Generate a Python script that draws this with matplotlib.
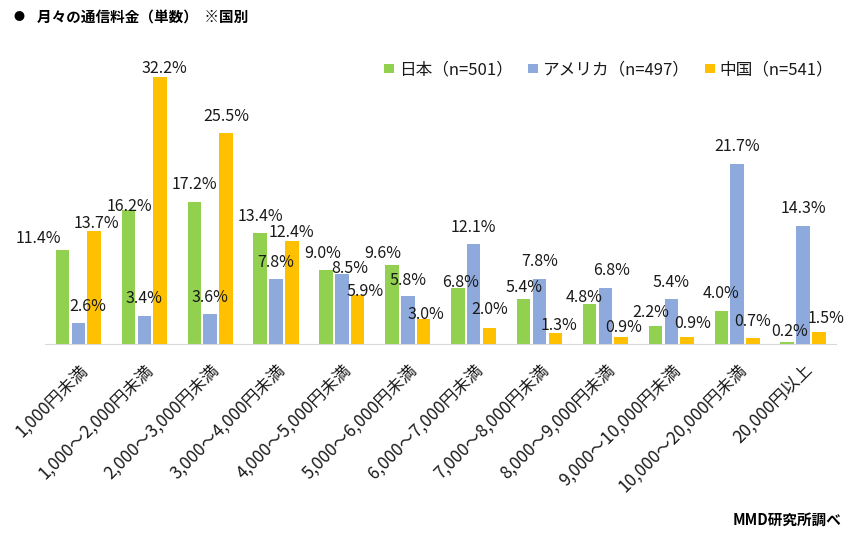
import numpy as np
import matplotlib
matplotlib.use("Agg")
import matplotlib.pyplot as plt

plt.rcParams['font.family'] = ['Noto Sans CJK JP', 'DejaVu Sans']

# data
categories = ['1,000円未満', '1,000～2,000円未満', '2,000～3,000円未満', '3,000～4,000円未満',
              '4,000～5,000円未満', '5,000～6,000円未満', '6,000～7,000円未満', '7,000～8,000円未満',
              '8,000～9,000円未満', '9,000～10,000円未満', '10,000～20,000円未満', '20,000円以上']
japan = [11.4, 16.2, 17.2, 13.4, 9.0, 9.6, 6.8, 5.4, 4.8, 2.2, 4.0, 0.2]
usa = [2.6, 3.4, 3.6, 7.8, 8.5, 5.8, 12.1, 7.8, 6.8, 5.4, 21.7, 14.3]
china = [13.7, 32.2, 25.5, 12.4, 5.9, 3.0, 2.0, 1.3, 0.9, 0.9, 0.7, 1.5]
series_names = ['日本（n=501）', 'アメリカ（n=497）', '中国（n=541）']

colors = ['#92D050', '#8EA9DB', '#FFC000']

# label nudges in pixels (dx, up) -- reference has hand-moved labels
nudge_jp = [(-24, 11), (1, 3), (0, 17), (0, 17), (-3, 16.5), (-9, 11.5), (3, 5.5), (0, 11.5),
            (-5.5, 6.5), (-5, 13.5), (0, 17), (2, 11)]
nudge_us = [(9, 16), (0, 17), (0, 16.5), (0, 16.5), (8, 5.5), (0, 16), (0, 16.5), (0, 17.5),
            (6, 17), (0, 16.5), (0, 18), (0, 17.5)]
nudge_cn = [(2, 7), (4, 9), (0, 16.5), (0, 8.5), (7, 3.5), (2, 5), (0, 18), (4, 8),
            (2, 9.5), (6, 13), (0, 17), (7, 13)]

fig = plt.figure(figsize=(8.5, 5.36), dpi=100)
ax = fig.add_axes([0.0535, 0.358, 0.930, 0.541])

x = np.arange(len(categories))
w = 0.205
off = 0.24
all_series = [japan, usa, china]
all_nudges = [nudge_jp, nudge_us, nudge_cn]
for i, (vals, nud) in enumerate(zip(all_series, all_nudges)):
    xs = x + (i - 1) * off
    ax.bar(xs, vals, width=w, color=colors[i], label=series_names[i])
    for xi, v, (dx, dy) in zip(xs, vals, nud):
        ax.annotate(f'{v:.1f}%', (xi, v), xytext=(dx, dy), textcoords='offset pixels',
                    ha='center', va='center', fontsize=11.5, color='#1a1a1a')

ax.set_xlim(-0.5, len(categories) - 0.5)
ax.set_ylim(0, 35)
ax.set_yticks([])
for s in ['top', 'right', 'left']:
    ax.spines[s].set_visible(False)
ax.spines['bottom'].set_color('#D9D9D9')
ax.set_xticks(x)
ax.set_xticklabels(categories, rotation=45, ha='right', rotation_mode='anchor',
                   fontsize=12.3, color='#1a1a1a')
ax.tick_params(axis='x', length=0, pad=12)

leg = ax.legend(loc='upper right', bbox_to_anchor=(1.005, 0.998), ncol=3, frameon=False,
                fontsize=12, handlelength=0.6, handleheight=0.45, handletextpad=0.3,
                columnspacing=0.9, borderaxespad=0.0)
for t in leg.get_texts():
    t.set_color('#1a1a1a')

fig.text(0.016, 0.968, '●', fontsize=8, ha='left', va='center', color='#000000')
fig.text(0.044, 0.968, '月々の通信料金（単数）  ※国別', fontsize=10.5, fontweight='bold',
         ha='left', va='center', color='#000000')
fig.text(0.99, 0.03, 'MMD研究所調べ', fontsize=10.5, fontweight='bold',
         ha='right', va='center', color='#000000')

fig.savefig('out.png', dpi=100)
